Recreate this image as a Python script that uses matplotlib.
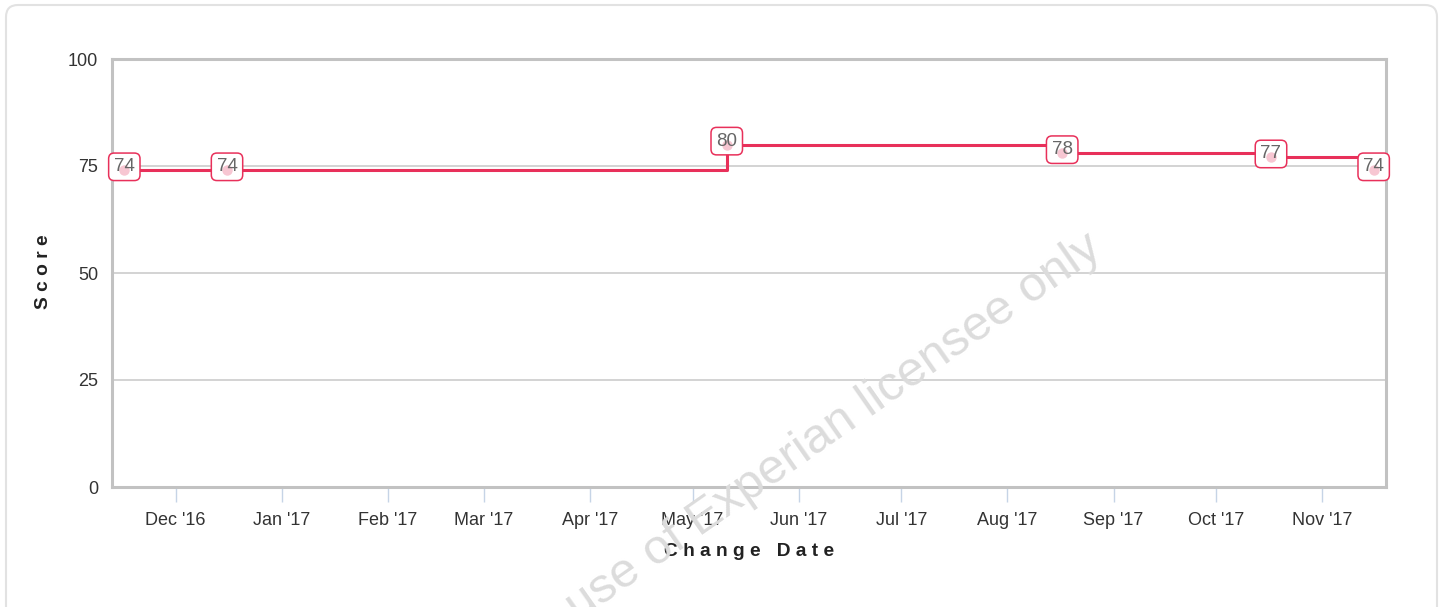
import datetime as dt
import matplotlib
matplotlib.use('Agg')
import matplotlib.pyplot as plt
import matplotlib.dates as mdates
import matplotlib.transforms as mtransforms
from matplotlib.patches import FancyBboxPatch

# score changes
change_dates = ['2016-11-16', '2016-12-16', '2017-05-11', '2017-08-17', '2017-10-17', '2017-11-16']
scores = [74, 74, 80, 78, 77, 74]
y_ticks = [0, 25, 50, 75, 100]

RED = '#e8305a'
W, H = 1444, 607

plt.rcParams['font.family'] = ['Liberation Sans', 'DejaVu Sans']

dates = [dt.datetime.strptime(d, '%Y-%m-%d') for d in change_dates]
x = mdates.date2num(dates)

fig = plt.figure(figsize=(W / 100, H / 100), dpi=100)
fig.patch.set_facecolor('white')

# outer card with rounded top corners
card = FancyBboxPatch((6, -60), 1431, 662, boxstyle='round,pad=0,rounding_size=12',
                      transform=mtransforms.IdentityTransform(),
                      fc='white', ec='#e2e2e2', lw=1.5, zorder=-1)
fig.add_artist(card)

ax = fig.add_axes([112 / W, 1 - 487 / H, (1386 - 112) / W, (487 - 59) / H])
ax.set_facecolor('white')

ax.step(x, scores, where='post', color=RED, lw=2.2, zorder=3)

up = mtransforms.offset_copy(ax.transData, fig=fig, y=2.5, units='points')
for xi, v in zip(x, scores):
    ax.text(xi, v, str(v), transform=up, ha='center', va='center', fontsize=13.5,
            color='none', clip_on=False, zorder=5,
            bbox=dict(boxstyle='round,pad=0.28,rounding_size=0.3', fc='white', ec=RED, lw=1.1))
    ax.plot(xi, v, 'o', ms=7.5, color='#f7c6d2', mec='none', clip_on=False, zorder=6)
    ax.text(xi, v, str(v), transform=up, ha='center', va='center', fontsize=13.5,
            color='#666666', clip_on=False, zorder=7)

ax.set_xlim(x[0] - 3.6, x[-1] + 3.6)
ax.set_ylim(0, 100)
ax.set_yticks(y_ticks)
ax.yaxis.grid(True, color='#c8c8c8', lw=1.1)
ax.set_axisbelow(True)

ax.xaxis.set_major_locator(mdates.MonthLocator())
ax.xaxis.set_major_formatter(mdates.DateFormatter("%b '%y"))
ax.tick_params(axis='x', length=11, width=1, color='#c6d4e6', pad=7,
               labelsize=13, labelcolor='#333333')
ax.tick_params(axis='y', length=0, pad=10, labelsize=13, labelcolor='#333333')

for s in ax.spines.values():
    s.set_color('#c2c2c2')
    s.set_linewidth(2.2)

fig.text(749 / W, 1 - 552 / H, 'C h a n g e   D a t e', ha='center', va='center',
         fontsize=13.8, fontweight='bold', color='#222222')
fig.text(44 / W, 1 - 272 / H, 'S c o r e', ha='center', va='center', rotation=90,
         fontsize=13.8, fontweight='bold', color='#222222')

# watermark, runs off the bottom edge
fig.text(1104 / W, 1 - 254 / H, 'use of Experian licensee only', rotation=35,
         rotation_mode='anchor', ha='right', va='baseline', fontsize=35.5,
         color='#dcdcdc', zorder=10)

fig.savefig('out.png', dpi=100, facecolor='white')
